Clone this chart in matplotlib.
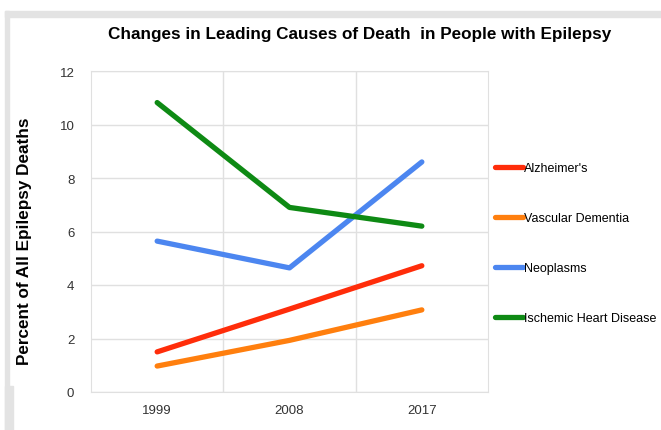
import numpy as np
import matplotlib.pyplot as plt
from matplotlib.patches import Rectangle

plt.rcParams['font.family'] = ['Liberation Sans', 'DejaVu Sans']

years = ['1999', '2008', '2017']
alzheimers = [1.5, 3.1, 4.72]
vascular_dementia = [0.97, 1.93, 3.07]
neoplasms = [5.64, 4.64, 8.6]
ischemic_heart = [10.82, 6.9, 6.2]

series = [
    ("Alzheimer's", alzheimers, '#ff2d0a'),
    ('Vascular Dementia', vascular_dementia, '#ff7f0e'),
    ('Neoplasms', neoplasms, '#4c86f0'),
    ('Ischemic Heart Disease', ischemic_heart, '#0e8a14'),
]

fig = plt.figure(figsize=(6.61, 4.31), dpi=100)

# grey frame of the original screenshot
fig.patches.append(Rectangle((5 / 661, 1 - 18 / 431), 656 / 661, 6 / 431,
                             transform=fig.transFigure, color='#e3e3e3', zorder=0))
fig.patches.append(Rectangle((5 / 661, 0), 4 / 661, 1 - 12 / 431,
                             transform=fig.transFigure, color='#e3e3e3', zorder=0))
fig.patches.append(Rectangle((5 / 661, 0), 8 / 661, 44 / 431,
                             transform=fig.transFigure, color='#e3e3e3', zorder=0))

ax = fig.add_axes([91 / 661, 1 - 393 / 431, 397 / 661, 321 / 431])
x = np.arange(len(years))
for name, vals, col in series:
    ax.plot(x, vals, color=col, lw=3.8, solid_capstyle='round', label=name)

ax.set_xlim(-0.5, 2.5)
ax.set_ylim(0, 12)
ax.set_yticks(range(0, 13, 2))
ax.set_xticks(x)
ax.set_xticklabels(years)
ax.set_xticks([0.5, 1.5], minor=True)
ax.grid(True, which='minor', axis='x', color='#e0e0e0', lw=1)
ax.grid(True, which='major', axis='y', color='#e0e0e0', lw=1)
ax.set_axisbelow(True)
for s in ax.spines.values():
    s.set_color('#e0e0e0')
ax.tick_params(which='both', length=0, labelsize=9.5, colors='#333333', pad=9)
ax.tick_params(axis='y', pad=12)

fig.text(25 / 661, 1 - 241 / 431, 'Percent of All Epilepsy Deaths', rotation=90,
         ha='center', va='center', fontsize=12.3, fontweight='bold')
fig.text(360 / 661, 1 - 34 / 431, 'Changes in Leading Causes of Death  in People with Epilepsy',
         ha='center', va='center', fontsize=12.3, fontweight='bold')

fig.legend(loc='upper left', bbox_to_anchor=(490 / 661, 1 - 158 / 431),
           frameon=False, fontsize=9, handlelength=2.2, handletextpad=0.1,
           labelspacing=3.04, borderaxespad=0)

fig.savefig('out.png', dpi=100)
